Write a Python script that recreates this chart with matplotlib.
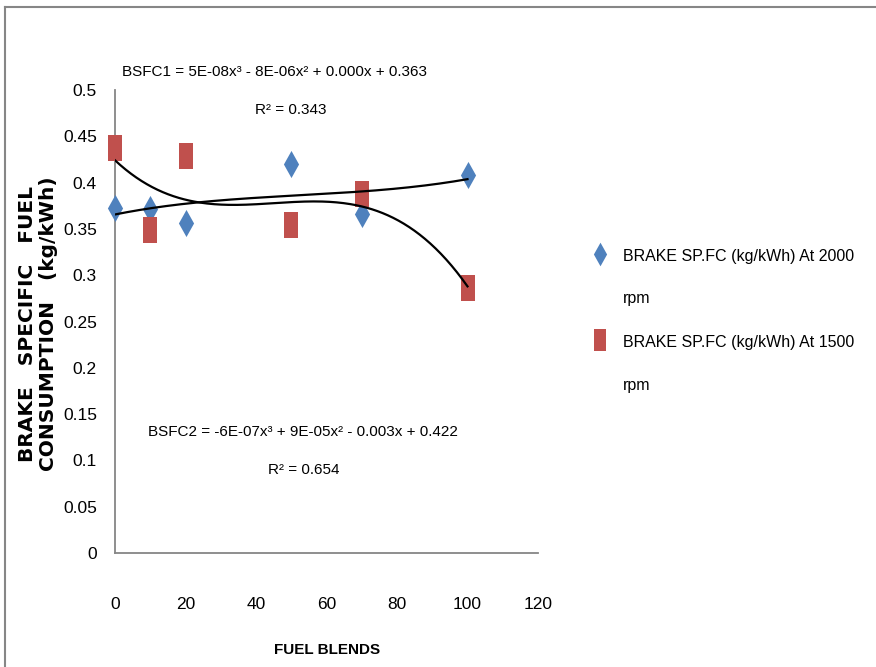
import numpy as np
import matplotlib
matplotlib.use('Agg')
import matplotlib.pyplot as plt
from matplotlib.lines import Line2D

plt.rcParams['font.family'] = ['Liberation Sans', 'DejaVu Sans']

# data
blends = [0, 10, 20, 50, 70, 100]
bsfc_2000 = [0.373, 0.372, 0.356, 0.420, 0.366, 0.408]
bsfc_1500 = [0.437, 0.349, 0.429, 0.354, 0.388, 0.286]
labels = ['BRAKE SP.FC (kg/kWh) At 2000\nrpm', 'BRAKE SP.FC (kg/kWh) At 1500\nrpm']
eq1 = 'BSFC1 = 5E-08x³ - 8E-06x² + 0.000x + 0.363'
r2_1 = 'R² = 0.343'
eq2 = 'BSFC2 = -6E-07x³ + 9E-05x² - 0.003x + 0.422'
r2_2 = 'R² = 0.654'
x_ticks = [0, 20, 40, 60, 80, 100, 120]
y_ticks = [0, 0.05, 0.1, 0.15, 0.2, 0.25, 0.3, 0.35, 0.4, 0.45, 0.5]

blue = '#4F81BD'
red = '#C0504D'
diamond = [(0, 0.5), (0.28, 0), (0, -0.5), (-0.28, 0), (0, 0.5)]
rect = [(-0.25, -0.5), (0.25, -0.5), (0.25, 0.5), (-0.25, 0.5), (-0.25, -0.5)]

W, H = 876, 667
fig = plt.figure(figsize=(W / 100, H / 100), dpi=100)
ax = fig.add_axes([115 / W, 1 - 553 / H, 423 / W, 463 / H])

ax.plot(blends, bsfc_2000, linestyle='none', marker=diamond, markersize=19.5,
        color=blue, markeredgewidth=0, zorder=3, clip_on=False)
ax.plot(blends, bsfc_1500, linestyle='none', marker=rect, markersize=19,
        color=red, markeredgewidth=0, zorder=3, clip_on=False)

# cubic trendlines
xs = np.linspace(0, 100, 200)
for ys in (bsfc_2000, bsfc_1500):
    c = np.polyfit(blends, ys, 3)
    ax.plot(xs, np.polyval(c, xs), color='black', lw=1.6, zorder=4)

ax.set_xlim(0, 120)
ax.set_ylim(0, 0.5)
ax.set_xticks(x_ticks)
ax.set_yticks(y_ticks)
ax.set_yticklabels([('%g' % v) for v in y_ticks])
ax.tick_params(axis='both', length=0, labelsize=12.5)
ax.tick_params(axis='x', pad=32)
ax.tick_params(axis='y', pad=13)
for s in ['top', 'right']:
    ax.spines[s].set_visible(False)
for s in ['left', 'bottom']:
    ax.spines[s].set_color('#868686')
    ax.spines[s].set_linewidth(1.3)

fs = 11
fig.text(274 / W, 1 - 72 / H, eq1, ha='center', va='center', fontsize=fs)
fig.text(291 / W, 1 - 110 / H, r2_1, ha='center', va='center', fontsize=fs)
fig.text(303 / W, 1 - 432 / H, eq2, ha='center', va='center', fontsize=fs)
fig.text(304 / W, 1 - 470 / H, r2_2, ha='center', va='center', fontsize=fs)

fig.text(327 / W, 1 - 650 / H, 'FUEL BLENDS', ha='center', va='center',
         fontsize=11, fontweight='bold')
fig.text(38 / W, 1 - 324 / H, 'BRAKE   SPECIFIC   FUEL\nCONSUMPTION   (kg/kWh)',
         rotation=90, ha='center', va='center', fontsize=14.5, fontweight='bold',
         family='DejaVu Sans', linespacing=1.1)

# legend
for i, (lab, col, mk, ms) in enumerate([(labels[0], blue, diamond, 17),
                                        (labels[1], red, rect, 16)]):
    y = 254 + i * 86
    fig.add_artist(Line2D([600 / W], [1 - y / H], marker=mk, markersize=ms,
                          color=col, markeredgewidth=0, linestyle='none'))
    for j, part in enumerate(lab.split('\n')):
        fig.text(623 / W, 1 - (y + 2 + 43 * j) / H, part, ha='left', va='center',
                 fontsize=11.5)

# chart border
fig.add_artist(Line2D([5 / W, 1], [1 - 7 / H, 1 - 7 / H], color='#868686', lw=1.5))
fig.add_artist(Line2D([5 / W, 5 / W], [0, 1 - 7 / H], color='#868686', lw=1.5))

fig.savefig('out.png', dpi=100)
